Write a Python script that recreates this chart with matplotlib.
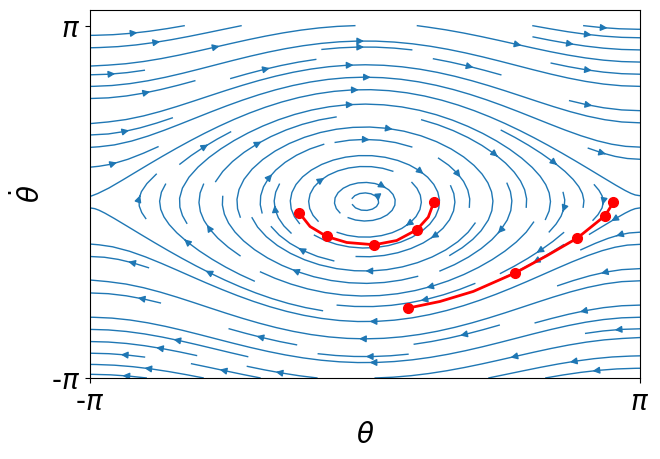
import numpy as np
import matplotlib.pyplot as plt

# pendulum phase-space grid (theta, theta_dot)
theta = np.linspace(-np.pi, np.pi, 100)
omega = np.linspace(-np.pi, np.pi, 100)

path1_theta = [-0.754, -0.628, -0.438, -0.209, 0.106, 0.362, 0.591, 0.723, 0.788]
path1_omega = [-0.191, -0.440, -0.618, -0.725, -0.766, -0.690, -0.499, -0.273, 0.0]
pts1_theta = [-0.754, -0.438, 0.106, 0.591, 0.788]
pts1_omega = [-0.191, -0.618, -0.766, -0.499, 0.0]

path2_theta = [0.495, 0.857, 1.237, 1.714, 2.076, 2.425, 2.742, 2.837]
path2_omega = [-1.894, -1.777, -1.598, -1.270, -0.962, -0.647, -0.249, -0.012]
pts2_theta = [0.495, 1.714, 2.425, 2.742, 2.837]
pts2_omega = [-1.894, -1.270, -0.647, -0.249, -0.012]

tick_vals = [-np.pi, np.pi]
tick_labels = ['-$\\pi$', '$\\pi$']

TH, OM = np.meshgrid(theta, omega)
U = OM
V = -np.sin(TH)

fig = plt.figure(figsize=(6.6, 4.59), dpi=100)
ax = fig.add_axes([90 / 660, 1 - 378 / 459, 550 / 660, 368 / 459])

ax.streamplot(TH, OM, U, V, color='C0', linewidth=1.0, density=1)

ax.plot(path1_theta, path1_omega, color='red', lw=2)
ax.plot(pts1_theta, pts1_omega, 'o', color='red', ms=7)
ax.plot(path2_theta, path2_omega, color='red', lw=2)
ax.plot(pts2_theta, pts2_omega, 'o', color='red', ms=7)

ax.set_xlim(-np.pi, np.pi)
ax.set_ylim(-np.pi, 3.42)
ax.set_xticks(tick_vals)
ax.set_xticklabels(tick_labels, fontsize=20)
ax.set_yticks(tick_vals)
ax.set_yticklabels(tick_labels, fontsize=20)
ax.set_xlabel('$\\theta$', fontsize=20)
ax.set_ylabel('$\\dot{\\theta}$', fontsize=20)

fig.savefig('out.png', dpi=100)
plt.close(fig)
